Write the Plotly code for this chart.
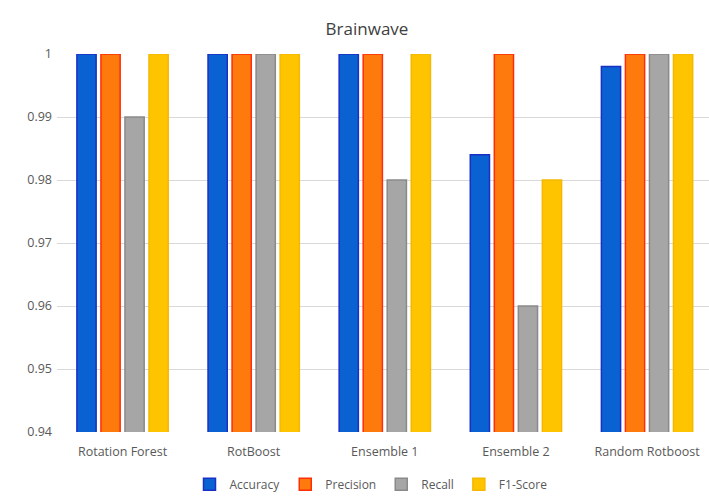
import plotly.graph_objects as go

# Classifier results on the Brainwave dataset
models = ["Rotation Forest", "RotBoost", "Ensemble 1", "Ensemble 2", "Random Rotboost"]
accuracy = [1.0, 1.0, 1.0, 0.984, 0.998]
precision = [1.0, 1.0, 1.0, 1.0, 1.0]
recall = [0.99, 1.0, 0.98, 0.96, 1.0]
f1_score = [1.0, 1.0, 1.0, 0.98, 1.0]

y_ticks = [0.94, 0.95, 0.96, 0.97, 0.98, 0.99, 1.0]
y_tick_labels = ["0.94", "0.95", "0.96", "0.97", "0.98", "0.99", "1"]

series = [
    ("Accuracy", accuracy, "#0a62d2", "#1a2fc4"),
    ("Precision", precision, "#ff7a0c", "#ff2d0a"),
    ("Recall", recall, "#a6a6a6", "#8a8a8a"),
    ("F1-Score", f1_score, "#ffc400", "#f5b800"),
]

W, H = 709, 499
fig = go.Figure()
for name, vals, fill, edge in series:
    fig.add_trace(go.Bar(
        name=name, x=models, y=vals,
        marker=dict(color=fill, line=dict(color=edge, width=1.5)),
    ))

text_color = "#595959"
font_family = "Open Sans, Liberation Sans, sans-serif"

fig.update_layout(
    width=W, height=H,
    margin=dict(l=57, r=0, t=54, b=62),
    paper_bgcolor="white", plot_bgcolor="white",
    barmode="group", bargap=0.267, bargroupgap=0.2,
    font=dict(family=font_family, size=12, color=text_color),
    title=dict(text="Brainwave", x=367 / W, xref="container", xanchor="center",
               y=1 - 29 / H, yref="container", yanchor="middle",
               font=dict(size=17, color="#404040", family=font_family)),
    showlegend=True,
    legend=dict(orientation="h", x=(371 - 57) / (W - 57), xanchor="center",
                y=-(490 - 437) / (437 - 54), yanchor="middle",
                font=dict(size=12, color=text_color), itemwidth=30,
                traceorder="normal", bgcolor="rgba(0,0,0,0)"),
    xaxis=dict(range=[-0.5, 4.5 - 3.6 / 131], showgrid=False, showline=False,
               ticks="", ticklabelstandoff=10,
               tickfont=dict(size=12.5, color=text_color)),
    yaxis=dict(range=[0.94, 1.0], tickvals=y_ticks, ticktext=y_tick_labels,
               showgrid=True, gridcolor="#d9d9d9", gridwidth=1, zeroline=False,
               showline=False, ticks="", ticklen=0, ticklabelstandoff=4,
               tickfont=dict(size=12.5, color=text_color)),
)

fig.write_html("out.html")
